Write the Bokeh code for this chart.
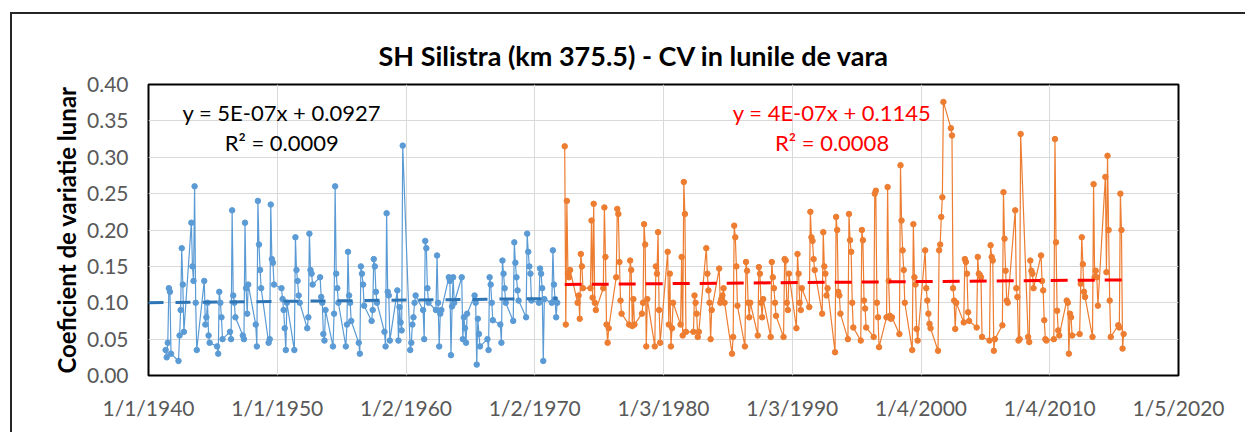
import datetime as dt
from bokeh.plotting import figure
from bokeh.models import Label, FixedTicker, Range1d, NumeralTickFormatter
from bokeh.embed import file_html
from bokeh.resources import INLINE

# ---------------- data ----------------
months = [5, 6, 7, 8, 9, 10]          # six warm-season months per year
blue_years = list(range(1941, 1972))
orange_years = list(range(1972, 2016))

blue_cv = [
    0.035, 0.025, 0.045, 0.120, 0.115, 0.030,   # 1941
    0.020, 0.055, 0.090, 0.175, 0.125, 0.060,   # 1942
    0.210, 0.150, 0.130, 0.260, 0.100, 0.035,   # 1943
    0.130, 0.070, 0.080, 0.100, 0.055, 0.045,   # 1944
    0.040, 0.030, 0.115, 0.100, 0.080, 0.050,   # 1945
    0.060, 0.050, 0.227, 0.110, 0.100, 0.080,   # 1946
    0.055, 0.050, 0.210, 0.120, 0.085, 0.125,   # 1947
    0.070, 0.040, 0.240, 0.180, 0.145, 0.120,   # 1948
    0.045, 0.050, 0.235, 0.160, 0.155, 0.125,   # 1949
    0.120, 0.105, 0.090, 0.065, 0.035, 0.100,   # 1950
    0.035, 0.190, 0.145, 0.130, 0.110, 0.100,   # 1951
    0.065, 0.080, 0.195, 0.145, 0.140, 0.125,   # 1952
    0.135, 0.108, 0.100, 0.057, 0.048, 0.090,   # 1953
    0.040, 0.085, 0.260, 0.140, 0.120, 0.100,   # 1954
    0.040, 0.070, 0.170, 0.110, 0.100, 0.075,   # 1955
    0.045, 0.030, 0.150, 0.140, 0.125, 0.096,   # 1956
    0.075, 0.090, 0.160, 0.150, 0.115, 0.100,   # 1957
    0.060, 0.040, 0.223, 0.115, 0.110, 0.048,   # 1958
    0.117, 0.048, 0.094, 0.073, 0.062, 0.316,   # 1959
    0.035, 0.045, 0.070, 0.080, 0.100, 0.110,   # 1960
    0.090, 0.050, 0.185, 0.175, 0.120, 0.100,   # 1961
    0.090, 0.165, 0.100, 0.040, 0.085, 0.090,   # 1962
    0.135, 0.130, 0.028, 0.095, 0.135, 0.100,   # 1963
    0.135, 0.050, 0.080, 0.065, 0.045, 0.085,   # 1964
    0.110, 0.100, 0.015, 0.078, 0.057, 0.040,   # 1965
    0.050, 0.035, 0.135, 0.125, 0.100, 0.076,   # 1966
    0.070, 0.045, 0.158, 0.140, 0.120, 0.100,   # 1967
    0.075, 0.183, 0.155, 0.135, 0.117, 0.103,   # 1968
    0.080, 0.195, 0.170, 0.150, 0.140, 0.103,   # 1969
    0.100, 0.147, 0.140, 0.120, 0.020, 0.105,   # 1970
    0.100, 0.172, 0.125, 0.105, 0.080, 0.100,   # 1971
]

orange_cv = [
    0.315, 0.070, 0.240, 0.140, 0.135, 0.145,   # 1972
    0.100, 0.110, 0.078, 0.167, 0.150, 0.120,   # 1973
    0.120, 0.213, 0.107, 0.236, 0.100, 0.090,   # 1974
    0.120, 0.231, 0.163, 0.070, 0.045, 0.065,   # 1975
    0.135, 0.229, 0.222, 0.156, 0.103, 0.085,   # 1976
    0.070, 0.158, 0.145, 0.068, 0.105, 0.070,   # 1977
    0.085, 0.100, 0.208, 0.180, 0.040, 0.105,   # 1978
    0.040, 0.150, 0.140, 0.197, 0.090, 0.045,   # 1979
    0.170, 0.070, 0.140, 0.040, 0.065, 0.100,   # 1980
    0.070, 0.163, 0.055, 0.266, 0.222, 0.060,   # 1981
    0.060, 0.110, 0.100, 0.085, 0.053, 0.060,   # 1982
    0.175, 0.140, 0.117, 0.100, 0.050, 0.090,   # 1983
    0.147, 0.100, 0.105, 0.110, 0.120, 0.100,   # 1984
    0.030, 0.053, 0.206, 0.190, 0.150, 0.096,   # 1985
    0.040, 0.156, 0.144, 0.100, 0.080, 0.100,   # 1986
    0.055, 0.149, 0.140, 0.100, 0.080, 0.105,   # 1987
    0.053, 0.156, 0.135, 0.120, 0.100, 0.082,   # 1988
    0.053, 0.160, 0.158, 0.100, 0.090, 0.140,   # 1989
    0.065, 0.167, 0.140, 0.100, 0.090, 0.120,   # 1990
    0.094, 0.225, 0.190, 0.185, 0.160, 0.145,   # 1991
    0.085, 0.197, 0.150, 0.140, 0.110, 0.120,   # 1992
    0.032, 0.218, 0.200, 0.115, 0.110, 0.085,   # 1993
    0.050, 0.222, 0.186, 0.170, 0.100, 0.066,   # 1994
    0.048, 0.200, 0.186, 0.103, 0.092, 0.066,   # 1995
    0.053, 0.250, 0.254, 0.100, 0.080, 0.039,   # 1996
    0.080, 0.259, 0.130, 0.082, 0.078, 0.080,   # 1997
    0.057, 0.289, 0.213, 0.172, 0.145, 0.100,   # 1998
    0.035, 0.208, 0.135, 0.125, 0.064, 0.048,   # 1999
    0.172, 0.120, 0.103, 0.085, 0.071, 0.065,   # 2000
    0.034, 0.172, 0.180, 0.218, 0.245, 0.376,   # 2001
    0.340, 0.330, 0.120, 0.103, 0.064, 0.100,   # 2002
    0.073, 0.160, 0.156, 0.140, 0.087, 0.075,   # 2003
    0.066, 0.163, 0.140, 0.138, 0.135, 0.053,   # 2004
    0.048, 0.179, 0.163, 0.158, 0.034, 0.050,   # 2005
    0.069, 0.252, 0.188, 0.144, 0.103, 0.100,   # 2006
    0.227, 0.120, 0.108, 0.048, 0.050, 0.332,   # 2007
    0.053, 0.046, 0.158, 0.144, 0.140, 0.120,   # 2008
    0.165, 0.130, 0.117, 0.076, 0.050, 0.048,   # 2009
    0.050, 0.325, 0.183, 0.089, 0.062, 0.055,   # 2010
    0.103, 0.100, 0.030, 0.085, 0.080, 0.055,   # 2011
    0.057, 0.126, 0.190, 0.153, 0.115, 0.108,   # 2012
    0.053, 0.263, 0.135, 0.144, 0.135, 0.096,   # 2013
    0.273, 0.142, 0.302, 0.200, 0.103, 0.053,   # 2014
    0.069, 0.066, 0.250, 0.200, 0.037, 0.057,   # 2015
]

# Excel linear trend lines as printed on the chart
blue_slope, blue_intercept = 5e-07, 0.0927
red_slope, red_intercept = 4e-07, 0.1145
blue_eq = ["y = 5E-07x + 0.0927", "R² = 0.0009"]
red_eq = ["y = 4E-07x + 0.1145", "R² = 0.0008"]

x_tick_labels = ["1/1/1940", "1/1/1950", "1/2/1960", "1/2/1970", "1/3/1980",
                 "1/3/1990", "1/4/2000", "1/4/2010", "1/5/2020"]
y_ticks = [0.0, 0.05, 0.10, 0.15, 0.20, 0.25, 0.30, 0.35, 0.40]

title_text = "SH Silistra (km 375.5) - CV in lunile de vara"
y_label = "Coeficient de variatie lunar"

# ---------------- helpers ----------------
EXCEL_EPOCH = dt.date(1899, 12, 30)


def serial(d):
    return (d - EXCEL_EPOCH).days


def parse_mdy(s):
    m, d, y = (int(t) for t in s.split("/"))
    return dt.date(y, m, d)


def dates_for(years):
    return [serial(dt.date(y, m, 1)) for y in years for m in months]


blue_x = dates_for(blue_years)
orange_x = dates_for(orange_years)
x_ticks = [serial(parse_mdy(s)) for s in x_tick_labels]

FONT = "Lato"
BLUE = "#5B9BD5"
ORANGE = "#ED7D31"

p = figure(width=1235, height=420, output_backend="svg", toolbar_location=None,
           x_range=Range1d(x_ticks[0], x_ticks[-1]), y_range=Range1d(0, 0.40),
           min_border_left=136, min_border_right=69, min_border_top=70,
           min_border_bottom=59)
p.styles = {"border-left": "2px solid #262626", "border-top": "2px solid #262626",
            "margin-left": "10px", "margin-top": "12px"}

p.title.text = title_text
p.title.align = "left"
p.title.offset = 230
p.title.text_font = FONT
p.title.text_font_size = "27px"
p.title.text_font_style = "bold"
p.title.text_color = "#000000"
p.title.standoff = 26

p.outline_line_color = "black"
p.outline_line_width = 2
p.background_fill_color = "white"
p.border_fill_color = "white"

# axes
for ax in (p.xaxis[0], p.yaxis[0]):
    ax.axis_line_color = None
    ax.major_tick_line_color = None
    ax.minor_tick_line_color = None
    ax.major_tick_out = 0
    ax.major_tick_in = 0
    ax.minor_tick_out = 0
    ax.minor_tick_in = 0
    ax.major_label_text_font = FONT
    ax.major_label_text_font_size = "21px"
    ax.major_label_text_color = "#595959"

p.xaxis.ticker = FixedTicker(ticks=x_ticks)
p.xaxis.major_label_overrides = {t: s for t, s in zip(x_ticks, x_tick_labels)}
p.xaxis.major_label_standoff = 19
p.yaxis.ticker = FixedTicker(ticks=y_ticks)
p.yaxis.formatter = NumeralTickFormatter(format="0.00")
p.yaxis.major_label_standoff = 20
p.yaxis.axis_label = y_label
p.yaxis.axis_label_text_font = FONT
p.yaxis.axis_label_text_font_size = "24px"
p.yaxis.axis_label_text_font_style = "bold"
p.yaxis.axis_label_text_color = "#000000"
p.yaxis.axis_label_standoff = 3

p.xgrid.ticker = FixedTicker(ticks=x_ticks)
p.ygrid.ticker = FixedTicker(ticks=y_ticks)
for g in (p.xgrid[0], p.ygrid[0]):
    g.grid_line_color = "#D9D9D9"
    g.grid_line_width = 1

# series
p.line(blue_x, blue_cv, line_color=BLUE, line_width=1.2)
p.scatter(blue_x, blue_cv, size=5.5, fill_color=BLUE, line_color=BLUE)
p.line(orange_x, orange_cv, line_color=ORANGE, line_width=1.2)
p.scatter(orange_x, orange_cv, size=5.5, fill_color=ORANGE, line_color=ORANGE)

# trend lines
bt_x = [x_ticks[0], blue_x[-1]]
bt_y = [blue_slope * x + blue_intercept for x in bt_x]
p.line(bt_x, bt_y, line_color="#2E75B6", line_width=3, line_dash="15 12")
rt_x = [orange_x[0], orange_x[-1] + 120]
rt_y = [red_slope * x + red_intercept for x in rt_x]
p.line(rt_x, rt_y, line_color="#FF0000", line_width=3, line_dash="17 10")


def year_pos(yf):
    return serial(dt.date(1940, 1, 1)) + (yf - 1940) * 365.25


for txt, yv in zip(blue_eq, [0.3615, 0.320]):
    p.add_layout(Label(x=year_pos(1950.35), y=yv, text=txt, text_align="center",
                       text_baseline="middle", text_font=FONT,
                       text_font_size="22px", text_color="#000000"))
for txt, yv in zip(red_eq, [0.3615, 0.320]):
    p.add_layout(Label(x=year_pos(1993.1), y=yv, text=txt, text_align="center",
                       text_baseline="middle", text_font=FONT,
                       text_font_size="22px", text_color="#FF0000"))

open("out.html", "w").write(file_html(p, INLINE))
